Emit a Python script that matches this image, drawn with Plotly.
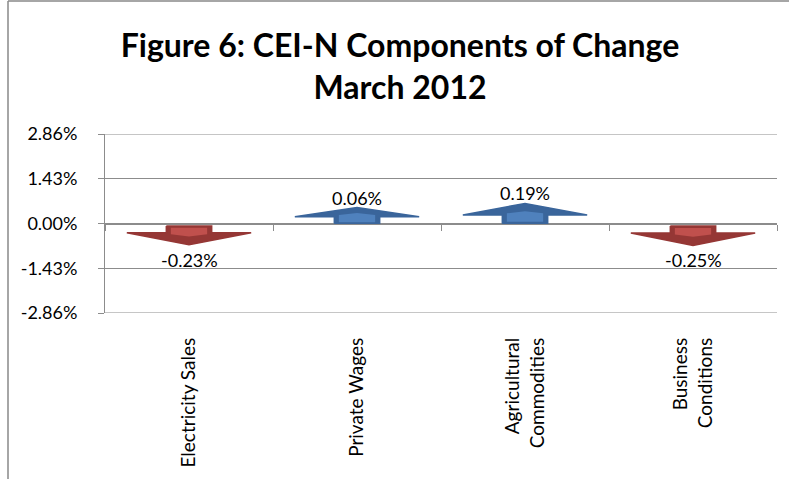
import plotly.graph_objects as go

# ---- data ----
categories = ["Electricity Sales", "Private Wages", "Agricultural<br>Commodities", "Business<br>Conditions"]
changes = [-0.23, 0.06, 0.19, -0.25]          # percent change
label_texts = ["-0.23%", "0.06%", "0.19%", "-0.25%"]
y_ticks = [-2.86, -1.43, 0.00, 1.43, 2.86]
y_tick_labels = ["-2.86%", "-1.43%", "0.00%", "1.43%", "2.86%"]
title_text = "<b>Figure 6: CEI-N Components of Change<br>March 2012</b>"

# ---- styling ----
W, H = 789, 479
ML, MR, MT, MB = 105, 12, 134, 166
FONT = "Lato"
GRID = "#8c8c8c"
UP_DARK, UP_LIGHT = "#3a659b", "#4f81bd"
DN_DARK, DN_LIGHT = "#953735", "#c0504d"

HEAD_HW = 0.37      # head half width (category units)
SHAFT_HW = 0.135    # shaft half width
SHAFT_FRAC = 0.43

fig = go.Figure()

for i, v in enumerate(changes):
    d = 1 if v >= 0 else -1
    L = 0.45 + abs(v)
    s = SHAFT_FRAC * L
    dark = UP_DARK if d > 0 else DN_DARK
    light = UP_LIGHT if d > 0 else DN_LIGHT
    start = 0.0 if d > 0 else -0.08
    # outer arrow
    xs = [i - SHAFT_HW, i - SHAFT_HW, i - HEAD_HW, i, i + HEAD_HW, i + SHAFT_HW, i + SHAFT_HW, i - SHAFT_HW]
    ys = [start, d * s, d * s, d * L, d * s, d * s, start, start]
    fig.add_trace(go.Scatter(x=xs, y=ys, mode="lines", fill="toself", fillcolor=dark,
                             line=dict(color=dark, width=1.5), hoverinfo="skip", showlegend=False))
    # inner lighter bevel
    ih = SHAFT_HW * 0.8
    a0 = start + d * 0.2 * s
    a1 = d * (s + 0.05)
    a2 = d * (s + 0.12)
    xi = [i - ih, i - ih, i, i + ih, i + ih, i - ih]
    yi = [a0, a1, a2, a1, a0, a0]
    fig.add_trace(go.Scatter(x=xi, y=yi, mode="lines", fill="toself", fillcolor=light,
                             line=dict(color=light, width=0), hoverinfo="skip", showlegend=False))
    # value label
    fig.add_annotation(x=i, y=d * L, text=label_texts[i], showarrow=False,
                       yanchor="bottom" if d > 0 else "top", yshift=-3 if d > 0 else -2,
                       font=dict(family=FONT, size=18, color="#000"))

# zero-line category axis with boundary ticks
fig.add_trace(go.Scatter(x=[-0.5, 3.5], y=[0, 0], xaxis="x2", mode="lines",
                         line=dict(color="rgba(0,0,0,0)"), hoverinfo="skip", showlegend=False))

# gridlines at the range ends (plotly skips those)
for yv in (y_ticks[0], y_ticks[-1]):
    fig.add_shape(type="line", xref="paper", yref="y", x0=0, x1=1, y0=yv, y1=yv,
                  line=dict(color=GRID, width=1), layer="below")

fig.update_layout(
    width=W, height=H,
    margin=dict(l=ML, r=MR, t=MT, b=MB, autoexpand=False),
    paper_bgcolor="white", plot_bgcolor="white",
    title=dict(text=title_text, x=400 / W, xanchor="center", y=1 - 57 / H, yanchor="middle",
               font=dict(family=FONT, size=32, color="#000"), automargin=False),
    xaxis=dict(range=[-0.5, 3.5], tickmode="array", tickvals=list(range(len(categories))),
               ticktext=categories, tickangle=-90, showgrid=False, zeroline=False,
               showline=False, ticks="", ticklabelstandoff=20, automargin=False,
               tickfont=dict(family=FONT, size=19, color="#000")),
    xaxis2=dict(range=[-0.5, 3.5], overlaying="x", anchor="free", position=0.5,
                tickmode="array", tickvals=[-0.5, 0.5, 1.5, 2.5, 3.5], ticks="outside",
                ticklen=6, tickcolor=GRID, showticklabels=False, showgrid=False,
                zeroline=False, showline=True, linecolor=GRID, linewidth=1, automargin=False),
    yaxis=dict(range=[-2.86, 2.86], tickmode="array", tickvals=y_ticks, ticktext=y_tick_labels,
               showgrid=True, gridcolor=GRID, gridwidth=1, zeroline=False, showline=True,
               linecolor=GRID, ticks="outside", ticklen=6, tickcolor=GRID, automargin=False,
               ticklabelstandoff=17, tickfont=dict(family=FONT, size=18, color="#000")),
)

# outer chart frame (top and left edges visible)
fig.add_shape(type="line", xref="paper", yref="paper",
              x0=(8 - ML) / (W - ML - MR), x1=(W - ML) / (W - ML - MR),
              y0=(H - MB - 1) / (H - MT - MB), y1=(H - MB - 1) / (H - MT - MB),
              line=dict(color="#888888", width=1.5))
fig.add_shape(type="line", xref="paper", yref="paper",
              x0=(8 - ML) / (W - ML - MR), x1=(8 - ML) / (W - ML - MR),
              y0=(H - MB - 1) / (H - MT - MB), y1=-(MB) / (H - MT - MB),
              line=dict(color="#888888", width=1.5))

fig.write_html("out.html", config={"displayModeBar": False},
               post_script="document.body.style.margin='0';document.body.style.overflow='hidden';")
